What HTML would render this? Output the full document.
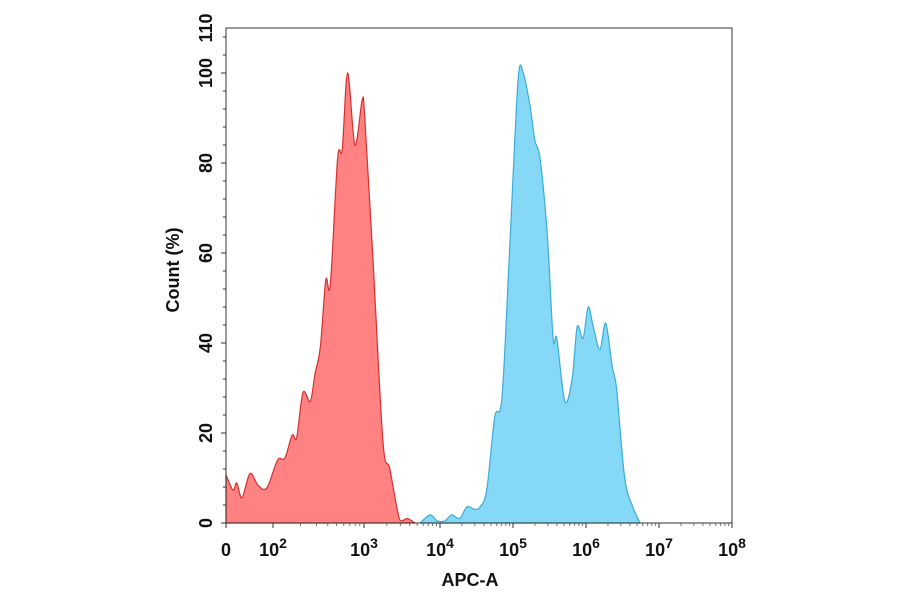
<!DOCTYPE html>
<html><head><meta charset="utf-8"><style>
html,body{margin:0;padding:0;background:#fff;}
svg{display:block;font-family:"Liberation Sans",Arial,sans-serif;}
</style></head><body>
<svg id="chart" width="900" height="594" viewBox="0 0 900 594"></svg>
<script>
// data (x in log10 decades; 1 = "0" label, counts in %)
const redX = [1.0,1.15,1.23,1.34,1.51,1.68,1.87,2.05,2.13,2.21,2.26,2.33,2.41,2.46,2.52,2.58,2.63,2.71,2.76,2.82,2.90,2.98,3.01,3.12,3.25,3.34,3.47,3.57,3.67];
const redY = [10.7,7.3,8.9,5.6,11,8.4,7.8,14,14.4,19.5,19,29,27,33,39,54,53,81,83,100,84,94,90,58,18,12,0.7,1,0];
const blueX = [3.74,3.87,3.96,4.07,4.16,4.27,4.37,4.48,4.55,4.64,4.75,4.85,4.96,5.07,5.14,5.23,5.30,5.37,5.47,5.55,5.60,5.71,5.81,5.88,5.96,6.03,6.10,6.19,6.27,6.36,6.42,6.53,6.64,6.74];
const blueY = [0,1.8,0.5,0.5,1.8,1,3.6,3,3.6,7.3,23.6,28,63,98.4,100,93,85,81,64,41,41,27,32,43.6,41,48,43.6,38.5,44.4,34.7,29.6,10,3.6,0];
const yTicks = [0,20,40,60,80,100,110];
const xTickDec = [1,2,3,4,5,6,7,8];
const xTickLabels = ["0","2","3","4","5","6","7","8"];

const NS="http://www.w3.org/2000/svg";
const svg=document.getElementById('chart');
const L=226,R=732,T=28,B=523;
const tickPx=[226,273,364,440,513,586,659,732];
function xs(d){
  if(d<=xTickDec[0])return tickPx[0];
  for(let i=0;i<xTickDec.length-1;i++){
    if(d<=xTickDec[i+1]){return tickPx[i]+(d-xTickDec[i])/(xTickDec[i+1]-xTickDec[i])*(tickPx[i+1]-tickPx[i]);}
  }
  return tickPx[tickPx.length-1];
}
function ys(v){return B-v*4.5;}
function mk(tag,attrs){const e=document.createElementNS(NS,tag);for(const k in attrs)e.setAttribute(k,attrs[k]);svg.appendChild(e);return e;}

function area(xa,ya,fill,stroke,name){
  const pts=xa.map((x,i)=>[xs(x),Math.min(B,ys(ya[i]))]);
  let d='M'+pts[0][0]+','+B+' L'+pts[0][0].toFixed(1)+','+pts[0][1].toFixed(1);
  for(let i=0;i<pts.length-1;i++){
    const p0=pts[Math.max(0,i-1)],p1=pts[i],p2=pts[i+1],p3=pts[Math.min(pts.length-1,i+2)];
    const t=0.16;
    const c1=[p1[0]+(p2[0]-p0[0])*t,Math.min(B,p1[1]+(p2[1]-p0[1])*t)];
    const c2=[p2[0]-(p3[0]-p1[0])*t,Math.min(B,p2[1]-(p3[1]-p1[1])*t)];
    d+=' C'+c1[0].toFixed(1)+','+c1[1].toFixed(1)+' '+c2[0].toFixed(1)+','+c2[1].toFixed(1)+' '+p2[0].toFixed(1)+','+p2[1].toFixed(1);
  }
  d+=' L'+pts[pts.length-1][0]+','+B+' Z';
  const p=mk('path',{d:d,fill:fill,stroke:stroke,'stroke-width':1.2,'stroke-linejoin':'round'});
  
  
}
area(redX,redY,'#ff8283','#d62f2f','red-histogram');
area(blueX,blueY,'#85d9f6','#3aacd8','blue-histogram');

const fr=mk('rect',{x:L,y:T,width:R-L,height:B-T,fill:'none',stroke:'#333','stroke-width':1});



for(let v=0;v<=108;v+=4){
  const t=mk('line',{x1:L-(v%20===0?5:3),x2:L,y1:ys(v),y2:ys(v),stroke:'#333','stroke-width':1});
  
  
}
yTicks.forEach(v=>{
  const y=ys(v);
  const t=mk('text',{x:0,y:0,transform:'translate(212,'+y+') rotate(-90)','text-anchor':'middle','font-size':18,'font-weight':'bold',fill:'#111'});
  t.textContent=v;
  
  
});
for(let i=0;i<xTickDec.length;i++){
  const x=tickPx[i];
  const t=mk('line',{x1:x,x2:x,y1:B,y2:B+5,stroke:'#333','stroke-width':1});
  
  
  if(i>=1&&i<xTickDec.length-1){
    for(let m=2;m<10;m++){
      const mx=xs(xTickDec[i]+Math.log10(m));
      const mt=mk('line',{x1:mx,x2:mx,y1:B,y2:B+3,stroke:'#555','stroke-width':0.8});
      
      
    }
  }
  const lab=mk('text',{x:x,y:556,'text-anchor':'middle','font-size':18,'font-weight':'bold',fill:'#111'});
  
  
  if(i===0){lab.textContent='0';}
  else{
    lab.textContent='10';
    const ts=document.createElementNS(NS,'tspan');
    ts.setAttribute('dy','-8');ts.setAttribute('font-size','14');
    ts.textContent=xTickLabels[i];
    lab.appendChild(ts);
  }
}
const xt=mk('text',{x:470,y:586,'text-anchor':'middle','font-size':18,'font-weight':'bold',fill:'#111'});
xt.textContent='APC-A';


const yt=mk('text',{x:0,y:0,transform:'translate(179,270) rotate(-90)','text-anchor':'middle','font-size':18,'font-weight':'bold',fill:'#111'});
yt.textContent='Count (%)';


</script>
</body></html>
